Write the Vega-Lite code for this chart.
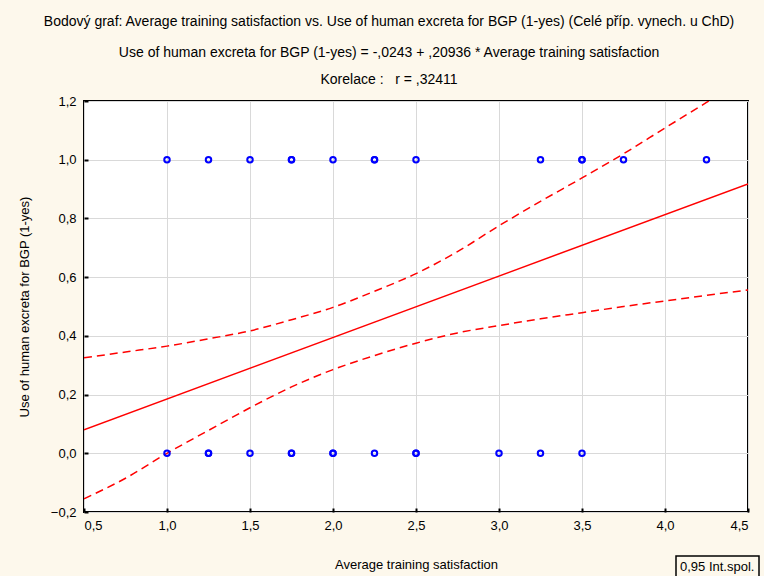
{
  "$schema": "https://vega.github.io/schema/vega-lite/v6.json",
  "width": 664,
  "height": 411,
  "autosize": {"type": "none"},
  "padding": {"left": 84, "top": 101, "right": 16, "bottom": 64},
  "background": "#FDF8EC",
  "config": {
    "view": {"fill": "white", "stroke": "black", "strokeWidth": 2},
    "font": "Liberation Sans",
    "axis": {
      "domain": false,
      "grid": true,
      "gridColor": "#d9d9d9",
      "gridWidth": 1,
      "tickColor": "black",
      "tickWidth": 2,
      "tickSize": -4,
      "labelFontSize": 13,
      "labelColor": "black",
      "titleFontSize": 13,
      "titleFontWeight": "normal",
      "titleColor": "black"
    },
    "legend": {
      "orient": "none",
      "legendX": 592,
      "legendY": 455,
      "strokeColor": "black",
      "strokeWidth": 1.5,
      "padding": 4,
      "symbolSize": 0,
      "symbolStrokeWidth": 0,
      "labelFontSize": 13,
      "labelColor": "black",
      "labelOffset": -13
    }
  },
  "title": {
    "text": "Bodový graf: Average training satisfaction vs. Use of human excreta for BGP (1-yes) (Celé příp. vynech. u ChD)",
    "subtitle": ["Use of human excreta for BGP (1-yes) = -,0243 + ,20936 * Average training satisfaction", "Korelace :\u00a0\u00a0 r = ,32411"],
    "frame": "bounds",
    "anchor": "middle",
    "font": "Liberation Sans",
    "subtitleFont": "Liberation Sans",
    "fontSize": 14,
    "fontWeight": "normal",
    "color": "black",
    "subtitleFontSize": 14,
    "subtitleColor": "black",
    "subtitleLineHeight": 27,
    "subtitlePadding": 17,
    "offset": 8
  },
  "datasets": {
    "pts": [
      {"x": 1.0, "y": 1}, {"x": 1.25, "y": 1}, {"x": 1.5, "y": 1}, {"x": 1.75, "y": 1}, {"x": 1.75, "y": 1},
      {"x": 2.0, "y": 1}, {"x": 2.25, "y": 1}, {"x": 2.25, "y": 1}, {"x": 2.5, "y": 1}, {"x": 3.25, "y": 1},
      {"x": 3.5, "y": 1}, {"x": 3.5, "y": 1}, {"x": 3.75, "y": 1}, {"x": 4.25, "y": 1},
      {"x": 1.0, "y": 0}, {"x": 1.25, "y": 0}, {"x": 1.25, "y": 0}, {"x": 1.5, "y": 0}, {"x": 1.75, "y": 0},
      {"x": 1.75, "y": 0}, {"x": 2.0, "y": 0}, {"x": 2.0, "y": 0}, {"x": 2.25, "y": 0}, {"x": 2.5, "y": 0},
      {"x": 2.5, "y": 0}, {"x": 3.0, "y": 0}, {"x": 3.25, "y": 0}, {"x": 3.5, "y": 0}
    ],
    "fit": [
      {"x": 0.5, "y": 0.0804},
      {"x": 4.5, "y": 0.9178}
    ],
    "band": [
      {"x": 0.5, "y": 0.325, "side": "upper", "ci": "0,95 Int.spol."},
      {"x": 0.75, "y": 0.345, "side": "upper", "ci": "0,95 Int.spol."},
      {"x": 1.0, "y": 0.365, "side": "upper", "ci": "0,95 Int.spol."},
      {"x": 1.25, "y": 0.39, "side": "upper", "ci": "0,95 Int.spol."},
      {"x": 1.5, "y": 0.417, "side": "upper", "ci": "0,95 Int.spol."},
      {"x": 1.75, "y": 0.455, "side": "upper", "ci": "0,95 Int.spol."},
      {"x": 2.0, "y": 0.497, "side": "upper", "ci": "0,95 Int.spol."},
      {"x": 2.25, "y": 0.552, "side": "upper", "ci": "0,95 Int.spol."},
      {"x": 2.5, "y": 0.612, "side": "upper", "ci": "0,95 Int.spol."},
      {"x": 2.75, "y": 0.687, "side": "upper", "ci": "0,95 Int.spol."},
      {"x": 3.0, "y": 0.775, "side": "upper", "ci": "0,95 Int.spol."},
      {"x": 3.25, "y": 0.858, "side": "upper", "ci": "0,95 Int.spol."},
      {"x": 3.5, "y": 0.938, "side": "upper", "ci": "0,95 Int.spol."},
      {"x": 3.75, "y": 1.02, "side": "upper", "ci": "0,95 Int.spol."},
      {"x": 4.0, "y": 1.108, "side": "upper", "ci": "0,95 Int.spol."},
      {"x": 4.25, "y": 1.195, "side": "upper", "ci": "0,95 Int.spol."},
      {"x": 4.5, "y": 1.28, "side": "upper", "ci": "0,95 Int.spol."},
      {"x": 0.5, "y": -0.155, "side": "lower", "ci": "0,95 Int.spol."},
      {"x": 0.75, "y": -0.085, "side": "lower", "ci": "0,95 Int.spol."},
      {"x": 1.0, "y": 0.0, "side": "lower", "ci": "0,95 Int.spol."},
      {"x": 1.25, "y": 0.078, "side": "lower", "ci": "0,95 Int.spol."},
      {"x": 1.5, "y": 0.155, "side": "lower", "ci": "0,95 Int.spol."},
      {"x": 1.75, "y": 0.226, "side": "lower", "ci": "0,95 Int.spol."},
      {"x": 2.0, "y": 0.285, "side": "lower", "ci": "0,95 Int.spol."},
      {"x": 2.25, "y": 0.333, "side": "lower", "ci": "0,95 Int.spol."},
      {"x": 2.5, "y": 0.375, "side": "lower", "ci": "0,95 Int.spol."},
      {"x": 2.75, "y": 0.41, "side": "lower", "ci": "0,95 Int.spol."},
      {"x": 3.0, "y": 0.435, "side": "lower", "ci": "0,95 Int.spol."},
      {"x": 3.25, "y": 0.458, "side": "lower", "ci": "0,95 Int.spol."},
      {"x": 3.5, "y": 0.479, "side": "lower", "ci": "0,95 Int.spol."},
      {"x": 3.75, "y": 0.5, "side": "lower", "ci": "0,95 Int.spol."},
      {"x": 4.0, "y": 0.519, "side": "lower", "ci": "0,95 Int.spol."},
      {"x": 4.25, "y": 0.538, "side": "lower", "ci": "0,95 Int.spol."},
      {"x": 4.5, "y": 0.556, "side": "lower", "ci": "0,95 Int.spol."}
    ]
  },
  "encoding": {
    "x": {
      "field": "x", "type": "quantitative",
      "scale": {"domain": [0.5, 4.5], "nice": false, "zero": false},
      "axis": {
        "title": "Average training satisfaction",
        "values": [0.5, 1, 1.5, 2, 2.5, 3, 3.5, 4, 4.5],
        "labelExpr": "replace(format(datum.value, '.1f'), '.', ',')",
        "labelPadding": 11,
        "titlePadding": 26
      }
    },
    "y": {
      "field": "y", "type": "quantitative",
      "scale": {"domain": [-0.2, 1.2], "nice": false, "zero": false},
      "axis": {
        "title": "Use of human excreta for BGP (1-yes)",
        "values": [-0.2, 0, 0.2, 0.4, 0.6, 0.8, 1, 1.2],
        "labelExpr": "replace(format(datum.value, '.1f'), '.', ',')",
        "labelPadding": 12,
        "titlePadding": 19
      }
    }
  },
  "layer": [
    {
      "data": {"name": "band"},
      "mark": {"type": "line", "color": "#ff0000", "strokeWidth": 1.5, "interpolate": "monotone", "clip": true},
      "encoding": {
        "detail": {"field": "side"},
        "strokeDash": {
          "field": "ci", "type": "nominal",
          "scale": {"range": [[8, 5]]},
          "legend": {"title": null}
        }
      }
    },
    {
      "data": {"name": "fit"},
      "mark": {"type": "line", "color": "#ff0000", "strokeWidth": 1.5, "clip": true},
      "encoding": {}
    },
    {
      "data": {"name": "pts"},
      "mark": {"type": "point", "shape": "circle", "filled": false, "color": "#0000ff", "strokeWidth": 2, "size": 30, "opacity": 1},
      "encoding": {}
    }
  ]
}
